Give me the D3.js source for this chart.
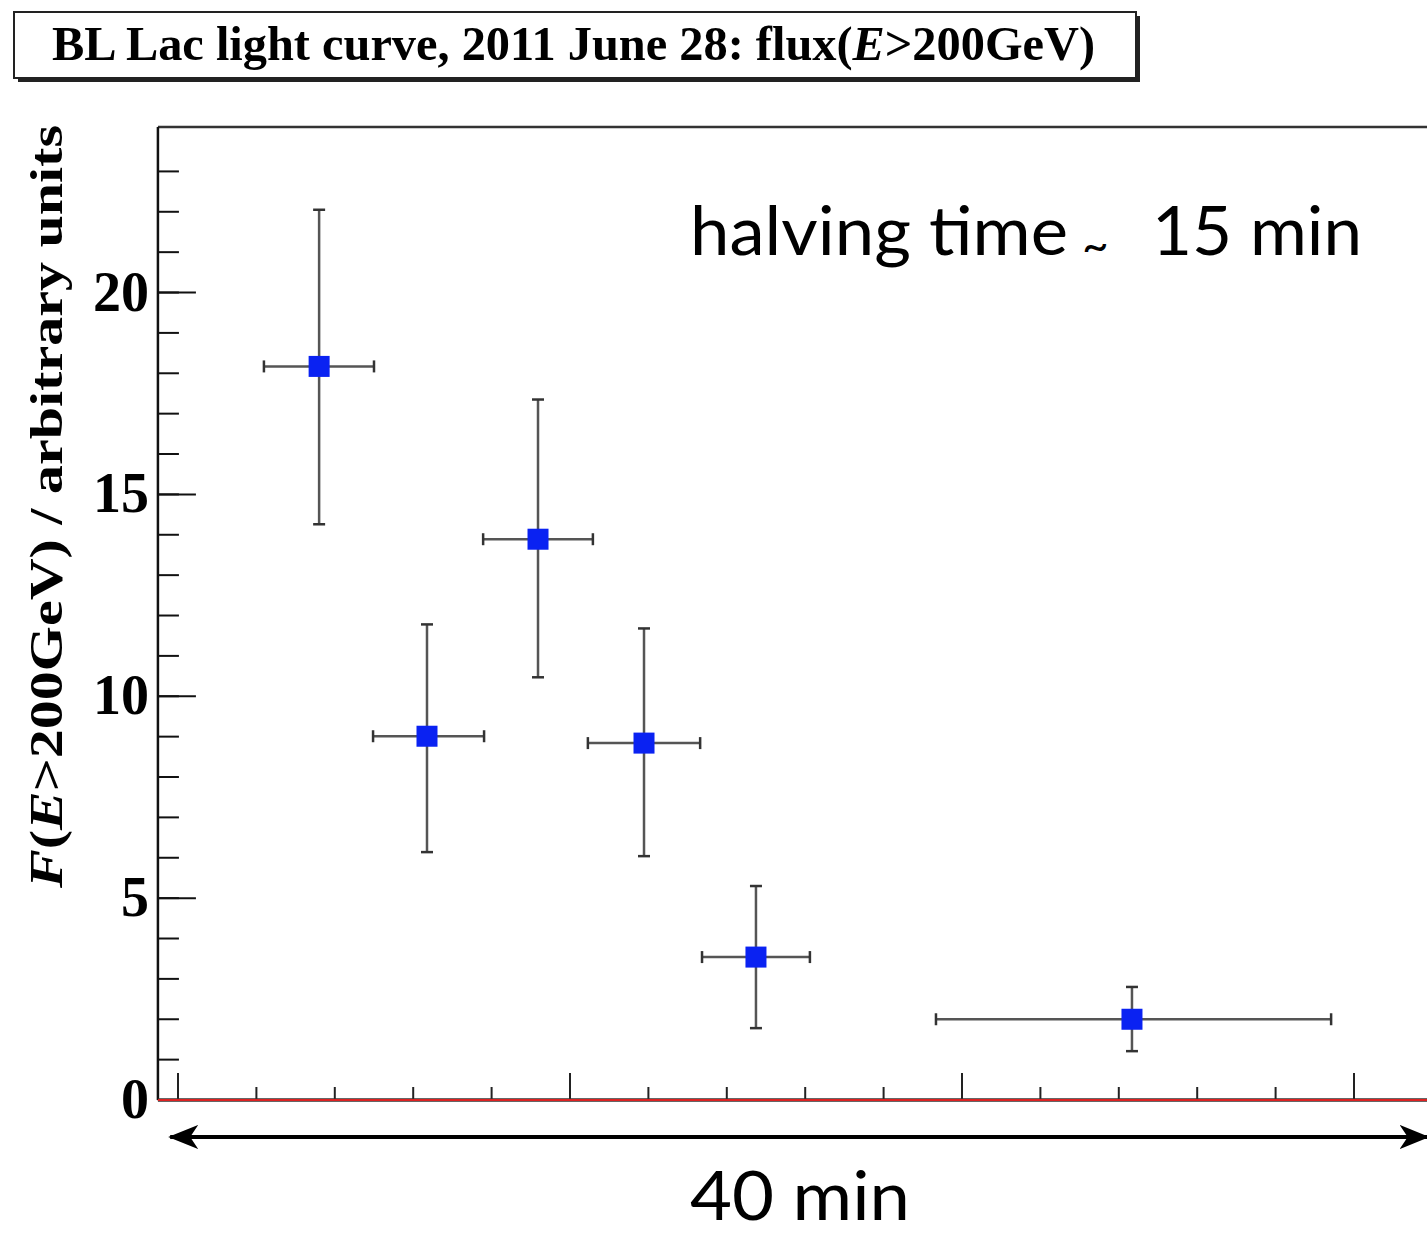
<!DOCTYPE html>
<html>
<head>
<meta charset="utf-8">
<script src="https://cdn.jsdelivr.net/npm/d3@7"></script>
<style>
  html, body { margin: 0; padding: 0; background: #fff; }
  svg { display: block; }
</style>
</head>
<body>
<div id="chart"></div>
<script>
// time bins (minutes from first major tick) and flux with errors
var binCentre = [4.50, 7.94, 11.48, 14.86, 18.43, 30.42];
var binLow    = [2.74, 6.22, 9.73, 13.07, 16.71, 24.17];
var binHigh   = [6.25, 9.76, 13.23, 16.65, 20.15, 36.77];
var flux      = [18.17, 9.01, 13.89, 8.84, 3.54, 2.00];
var fluxHigh  = [22.05, 11.78, 17.35, 11.68, 5.30, 2.80];
var fluxLow   = [14.26, 6.14, 10.47, 6.04, 1.78, 1.21];

var yMajor = [0, 5, 10, 15, 20];
var yMinor = d3.range(0, 24, 1);
var xMajor = [0, 12.5, 25, 37.5];
var xMinor = d3.range(0, 40, 2.5);

var width = 1427, height = 1233;

var svg = d3.select("#chart").append("svg")
    .attr("width", width)
    .attr("height", height);

var x = d3.scaleLinear().domain([0, 40]).range([178, 1432.4]);
var y = d3.scaleLinear().domain([0, 24.1]).range([1100, 127]);

var frameLeft = x(-0.64), frameTop = y(24.1), frameBottom = y(0);

// title box with ROOT-style shadow
svg.append("rect").attr("x", 18).attr("y", 16).attr("width", 1122).attr("height", 66)
    .attr("fill", "#222");
svg.append("rect").attr("x", 14).attr("y", 12).attr("width", 1122).attr("height", 66)
    .attr("fill", "#fff").attr("stroke", "#222").attr("stroke-width", 2);

var title = svg.append("text")
    .attr("x", 52).attr("y", 60)
    .attr("font-family", "'Liberation Serif', 'Times New Roman', serif")
    .attr("font-weight", "bold")
    .attr("font-size", 48)
    .attr("textLength", 1043)
    .attr("lengthAdjust", "spacingAndGlyphs");
title.append("tspan").text("BL Lac light curve, 2011 June 28: flux(");
title.append("tspan").attr("font-style", "italic").text("E");
title.append("tspan").text(">200GeV)");

// frame
svg.append("line").attr("x1", frameLeft).attr("x2", width).attr("y1", frameTop).attr("y2", frameTop)
    .attr("stroke", "#333").attr("stroke-width", 2.5);
svg.append("line").attr("x1", frameLeft).attr("x2", frameLeft).attr("y1", frameTop).attr("y2", frameBottom)
    .attr("stroke", "#111").attr("stroke-width", 2.5);

// y ticks
var g = svg.append("g");
g.selectAll(".ymin").data(yMinor).enter().append("line")
    .attr("x1", frameLeft).attr("x2", frameLeft + 21)
    .attr("y1", function (d) { return y(d); }).attr("y2", function (d) { return y(d); })
    .attr("stroke", "#111").attr("stroke-width", 2);
g.selectAll(".ymaj").data(yMajor).enter().append("line")
    .attr("x1", frameLeft).attr("x2", frameLeft + 38)
    .attr("y1", function (d) { return y(d); }).attr("y2", function (d) { return y(d); })
    .attr("stroke", "#111").attr("stroke-width", 2);
g.selectAll(".ylab").data(yMajor).enter().append("text")
    .attr("x", 149).attr("y", function (d) { return y(d) + 18; })
    .attr("text-anchor", "end")
    .attr("font-family", "'Liberation Serif', 'Times New Roman', serif")
    .attr("font-weight", "bold")
    .attr("font-size", 56)
    .text(function (d) { return d; });

// x ticks
g.selectAll(".xmin").data(xMinor).enter().append("line")
    .attr("x1", function (d) { return x(d); }).attr("x2", function (d) { return x(d); })
    .attr("y1", frameBottom).attr("y2", frameBottom - 13)
    .attr("stroke", "#222").attr("stroke-width", 2);
g.selectAll(".xmaj").data(xMajor).enter().append("line")
    .attr("x1", function (d) { return x(d); }).attr("x2", function (d) { return x(d); })
    .attr("y1", frameBottom).attr("y2", frameBottom - 27)
    .attr("stroke", "#222").attr("stroke-width", 2);

// bottom axis + red zero line
svg.append("line").attr("x1", frameLeft).attr("x2", width).attr("y1", frameBottom).attr("y2", frameBottom)
    .attr("stroke", "#333").attr("stroke-width", 3.5);
svg.append("line").attr("x1", frameLeft).attr("x2", width).attr("y1", frameBottom).attr("y2", frameBottom)
    .attr("stroke", "#d22").attr("stroke-width", 2);

// y axis title
var yt = svg.append("text")
    .attr("transform", "translate(62," + 888 + ") rotate(-90)")
    .attr("font-family", "'Liberation Serif', 'Times New Roman', serif")
    .attr("font-weight", "bold")
    .attr("font-size", 46)
    .attr("textLength", 763)
    .attr("lengthAdjust", "spacingAndGlyphs");
yt.append("tspan").attr("font-style", "italic").text("F");
yt.append("tspan").text("(");
yt.append("tspan").attr("font-style", "italic").text("E");
yt.append("tspan").text(">200GeV) / arbitrary units");

// data points
var pts = d3.range(flux.length).map(function (i) {
    return { xc: binCentre[i], xl: binLow[i], xh: binHigh[i], v: flux[i], lo: fluxLow[i], hi: fluxHigh[i] };
});

var p = svg.append("g").selectAll("g").data(pts).enter().append("g");
var errColor = "#555", cap = 6;

p.append("line")
    .attr("x1", function (d) { return x(d.xl); }).attr("x2", function (d) { return x(d.xh); })
    .attr("y1", function (d) { return y(d.v); }).attr("y2", function (d) { return y(d.v); })
    .attr("stroke", errColor).attr("stroke-width", 2.5);
p.append("line")
    .attr("x1", function (d) { return x(d.xc); }).attr("x2", function (d) { return x(d.xc); })
    .attr("y1", function (d) { return y(d.lo); }).attr("y2", function (d) { return y(d.hi); })
    .attr("stroke", errColor).attr("stroke-width", 2.5);
// end caps
["xl", "xh"].forEach(function (k) {
    p.append("line")
        .attr("x1", function (d) { return x(d[k]); }).attr("x2", function (d) { return x(d[k]); })
        .attr("y1", function (d) { return y(d.v) - cap; }).attr("y2", function (d) { return y(d.v) + cap; })
        .attr("stroke", "#333").attr("stroke-width", 2.5);
});
["lo", "hi"].forEach(function (k) {
    p.append("line")
        .attr("x1", function (d) { return x(d.xc) - cap; }).attr("x2", function (d) { return x(d.xc) + cap; })
        .attr("y1", function (d) { return y(d[k]); }).attr("y2", function (d) { return y(d[k]); })
        .attr("stroke", "#333").attr("stroke-width", 2.5);
});
p.append("rect")
    .attr("x", function (d) { return x(d.xc) - 10.5; })
    .attr("y", function (d) { return y(d.v) - 10.5; })
    .attr("width", 21).attr("height", 21)
    .attr("fill", "#0a22f2");

// annotations
var sans = "Lato, 'Open Sans', sans-serif";
svg.append("text").attr("x", 690).attr("y", 255)
    .attr("font-family", sans).attr("font-size", 68)
    .attr("textLength", 378).attr("lengthAdjust", "spacingAndGlyphs")
    .text("halving time");
svg.append("text").attr("x", 1082).attr("y", 262)
    .attr("font-family", sans).attr("font-size", 46).text("~");
svg.append("text").attr("x", 1152).attr("y", 255)
    .attr("font-family", sans).attr("font-size", 68)
    .attr("textLength", 210).attr("lengthAdjust", "spacingAndGlyphs")
    .text("15 min");

// 40 min arrow
var defs = svg.append("defs");
defs.append("marker").attr("id", "head").attr("viewBox", "0 0 30 24")
    .attr("refX", 28).attr("refY", 12).attr("markerWidth", 30).attr("markerHeight", 24)
    .attr("markerUnits", "userSpaceOnUse").attr("orient", "auto-start-reverse")
    .append("path").attr("d", "M0,0 L30,12 L0,24 L8,12 Z").attr("fill", "#000");
svg.append("line")
    .attr("x1", x(-0.25)).attr("x2", x(39.85))
    .attr("y1", 1137).attr("y2", 1137)
    .attr("stroke", "#000").attr("stroke-width", 4)
    .attr("marker-start", "url(#head)").attr("marker-end", "url(#head)");
svg.append("text").attr("x", 690).attr("y", 1220)
    .attr("font-family", sans).attr("font-size", 68)
    .attr("textLength", 220).attr("lengthAdjust", "spacingAndGlyphs")
    .text("40 min");
</script>
</body>
</html>
